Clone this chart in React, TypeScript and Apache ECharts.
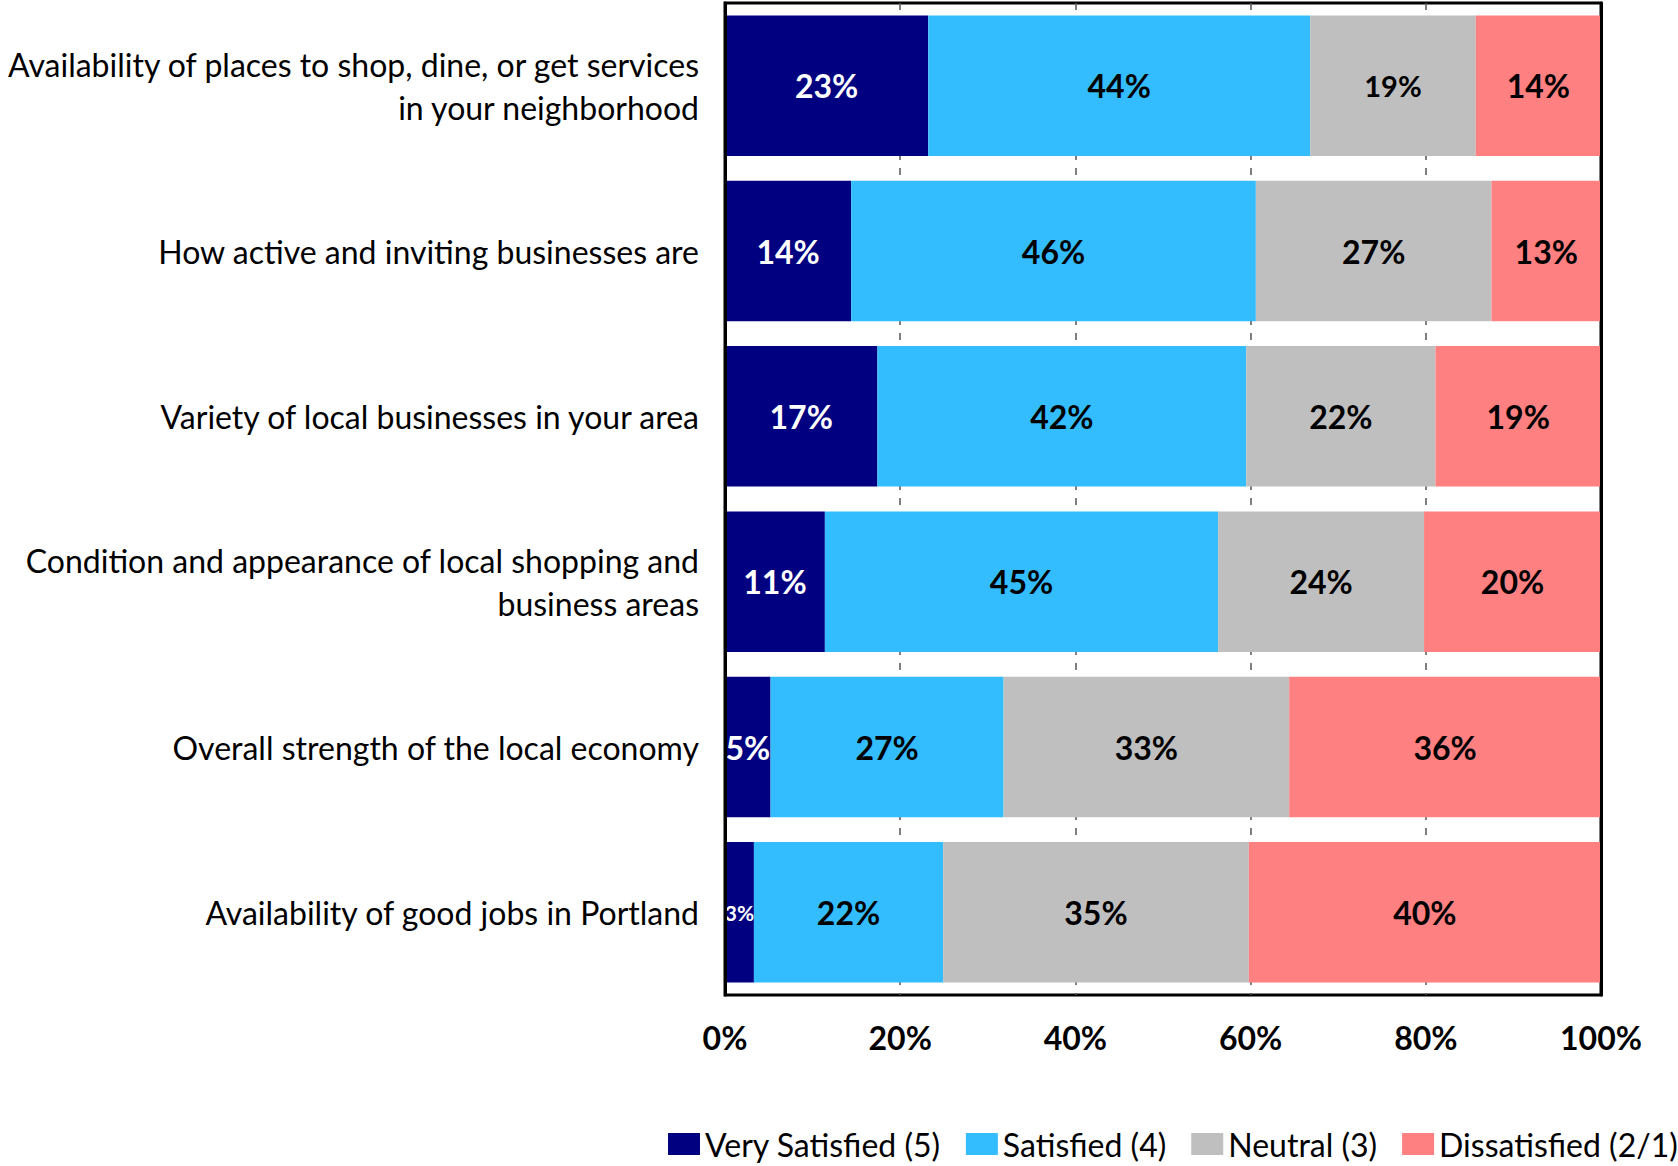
import React, { useEffect, useRef } from "react";
import * as echarts from "echarts";

const categories = [
  "Availability of places to shop, dine, or get services\nin your neighborhood",
  "How active and inviting businesses are",
  "Variety of local businesses in your area",
  "Condition and appearance of local shopping and\nbusiness areas",
  "Overall strength of the local economy",
  "Availability of good jobs in Portland",
];

const seriesNames = ["Very Satisfied (5)", "Satisfied (4)", "Neutral (3)", "Dissatisfied (2/1)"];

const verySatisfied = [23.2, 14.4, 17.4, 11.4, 5.2, 3.3];
const satisfied = [43.6, 46.2, 42.1, 44.9, 26.6, 21.6];
const neutral = [18.9, 26.9, 21.6, 23.5, 32.6, 34.9];
const dissatisfied = [14.3, 12.5, 18.9, 20.2, 35.6, 40.2];

const xMin = 0;
const xMax = 100;
const xInterval = 20;

const FONT = "Lato, 'Noto Sans', sans-serif";
const colors = ["#000080", "#33BDFF", "#BFBFBF", "#FF8080"];
const labelColors = ["#FFFFFF", "#000000", "#000000", "#000000"];

export default function App() {
  const ref = useRef<HTMLDivElement>(null);

  useEffect(() => {
    if (!ref.current) return;
    const chart = echarts.init(ref.current, undefined, { renderer: "svg" });

    const values = [verySatisfied, satisfied, neutral, dissatisfied];
    // small-label overrides: [seriesIndex, categoryIndex, fontSize]
    const smallLabels: [number, number, number][] = [
      [2, 0, 29],
      [0, 5, 21],
    ];

    const series = values.map((arr, si) => ({
      name: seriesNames[si],
      type: "bar",
      stack: "total",
      barCategoryGap: "15%",
      itemStyle: { color: colors[si] },
      label: {
        show: true,
        position: "inside",
        color: labelColors[si],
        fontFamily: FONT,
        fontWeight: "bold",
        fontSize: 32,
        formatter: (p: any) => Math.round(p.value) + "%",
      },
      data: arr.map((v, ci) => {
        const o = smallLabels.find((s) => s[0] === si && s[1] === ci);
        return o ? { value: v, label: { fontSize: o[2] } } : v;
      }),
    }));

    chart.setOption({
      animation: false,
      textStyle: { fontFamily: FONT },
      grid: {
        left: 725,
        top: 3,
        width: 876,
        height: 992,
        show: true,
        borderColor: "#000",
        borderWidth: 3,
        containLabel: false,
        outerBoundsMode: "none",
      },
      legend: {
        left: 668,
        top: 1128,
        width: 1010,
        padding: 0,
        itemWidth: 32,
        itemHeight: 22,
        itemGap: 25,
        icon: "rect",
        textStyle: { fontFamily: FONT, fontSize: 32, color: "#000" },
        data: seriesNames,
      },
      xAxis: {
        type: "value",
        min: xMin,
        max: xMax,
        interval: xInterval,
        axisLine: { show: false },
        axisTick: { show: false },
        axisLabel: {
          formatter: "{value}%",
          fontFamily: FONT,
          fontWeight: "bold",
          fontSize: 32,
          color: "#000",
          margin: 26,
        },
        splitLine: {
          show: true,
          lineStyle: { color: "#555", width: 1.5, type: [7, 8] },
        },
      },
      yAxis: [
        {
          type: "category",
          data: categories,
          inverse: true,
          z: 3,
          axisLine: { show: true, lineStyle: { color: "#000", width: 3 } },
          axisTick: { show: false },
          axisLabel: {
            fontFamily: FONT,
            fontSize: 32,
            color: "#000",
            margin: 26,
            align: "right",
            lineHeight: 43,
          },
        },
        {
          type: "category",
          data: categories,
          inverse: true,
          position: "right",
          z: 3,
          axisLine: { show: true, lineStyle: { color: "#000", width: 3 } },
          axisTick: { show: false },
          axisLabel: { show: false },
        },
      ],
      series,
    });

    return () => chart.dispose();
  }, []);

  return (
    <div
      ref={ref}
      style={{ position: "absolute", left: 0, top: 0, width: 1678, height: 1166 }}
    />
  );
}
